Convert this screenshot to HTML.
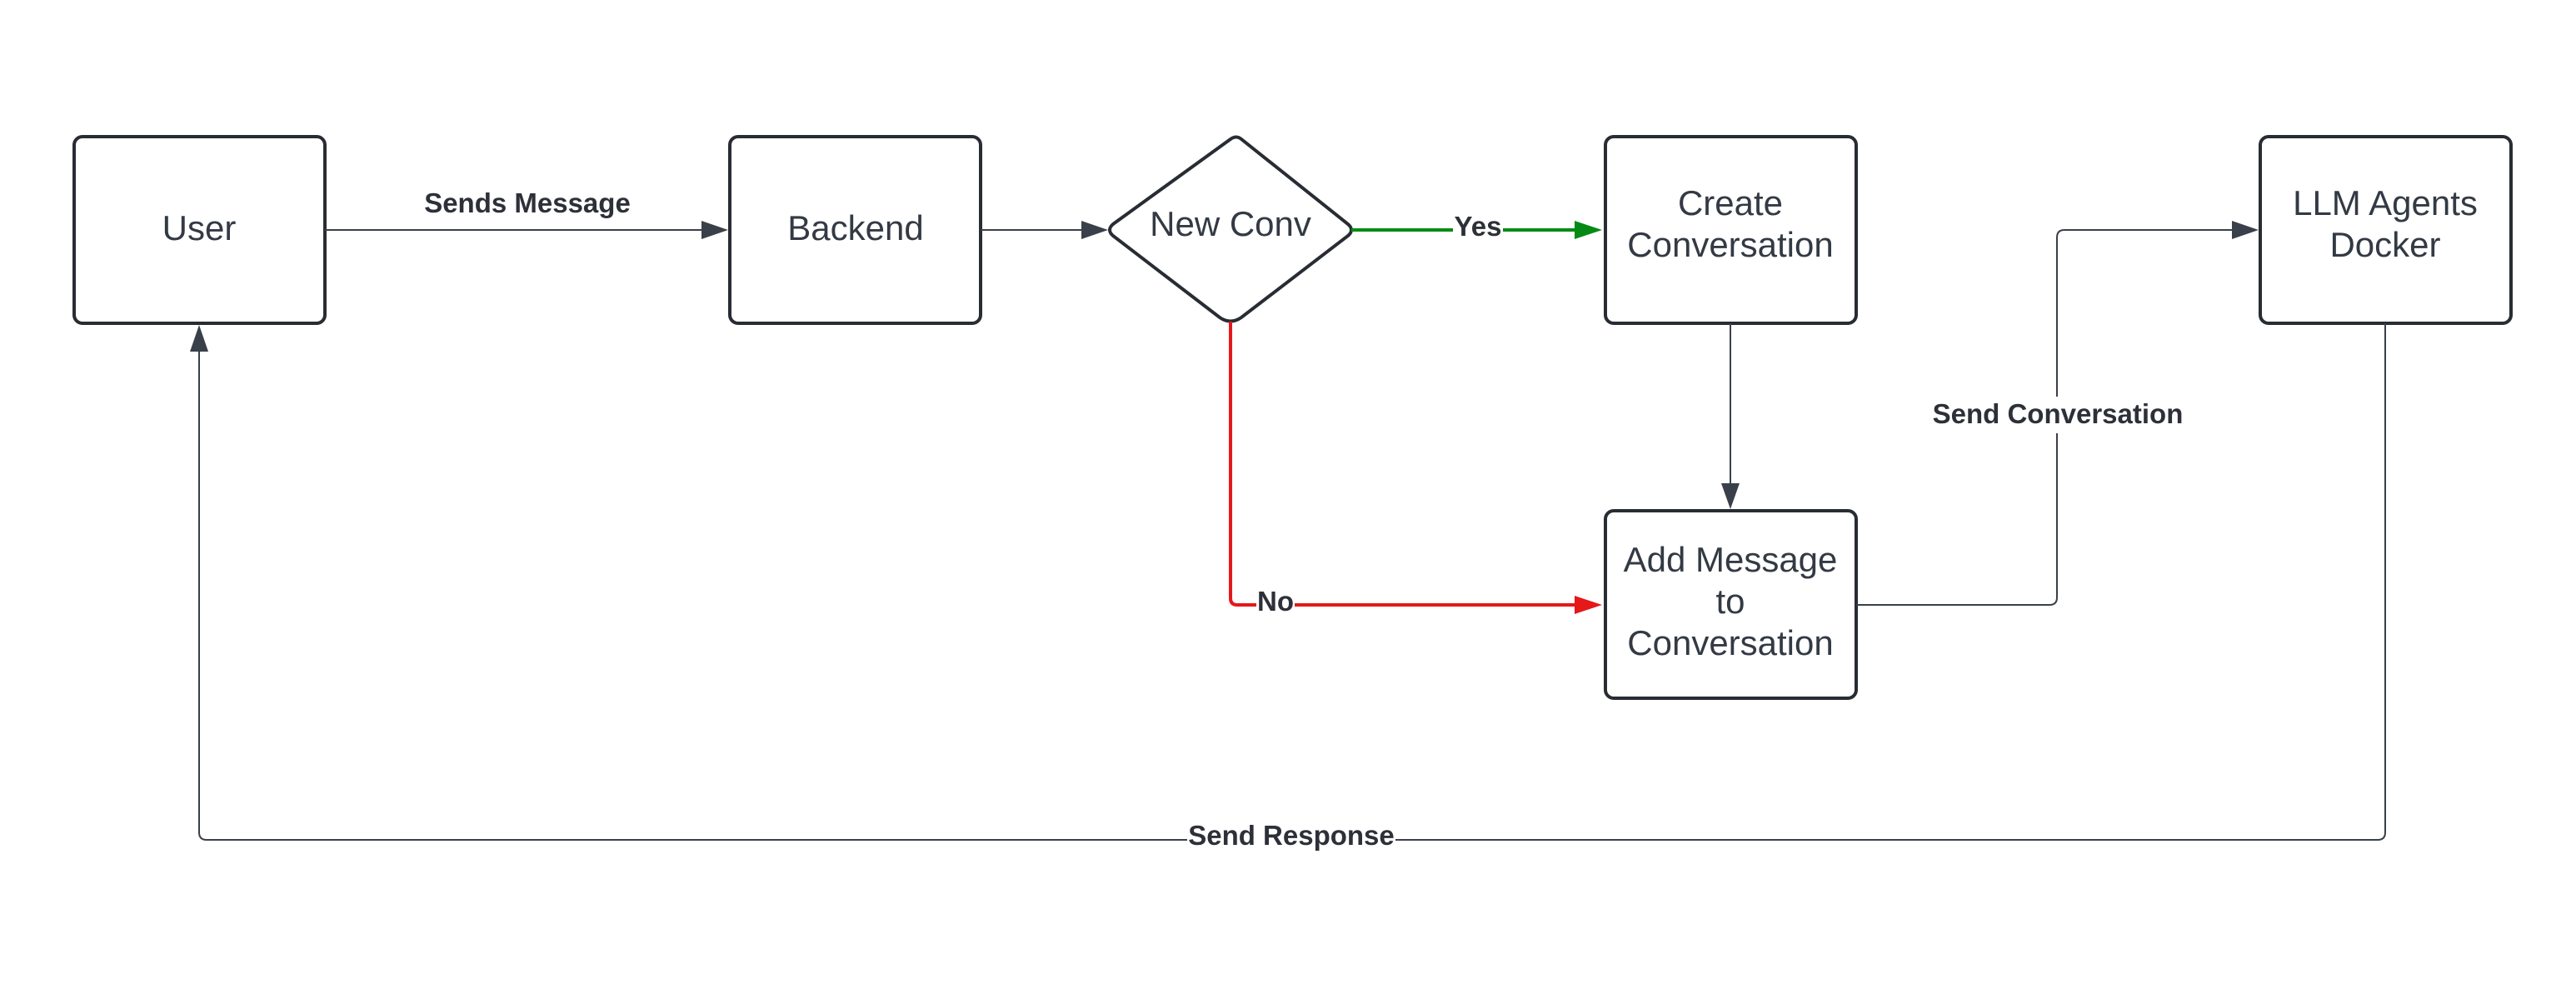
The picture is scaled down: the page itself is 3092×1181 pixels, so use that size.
<!DOCTYPE html>
<html><head><meta charset="utf-8"><style>
html,body{margin:0;padding:0;background:#fff}
svg{display:block}
</style></head><body>
<svg width="3092" height="1181" viewBox="0 0 3092 1181" xmlns="http://www.w3.org/2000/svg">
<rect width="3092" height="1181" fill="#fff"/>
<g fill="#fff" stroke="#282c33" stroke-width="4">
<rect x="89" y="164" width="301" height="224" rx="10"/>
<rect x="876" y="164" width="301" height="224" rx="10"/>
<path d="M1477 167 Q1484 162 1490 167 L1618 269 Q1626 276 1618 283 L1490 381 Q1477 390 1464 381 L1336 283 Q1328 276 1336 269 Z"/>
<rect x="1927" y="164" width="301" height="224" rx="10"/>
<rect x="1927" y="613" width="301" height="225" rx="10"/>
<rect x="2713" y="164" width="301" height="224" rx="10"/>
</g>
<g fill="none" stroke="#3a4049" stroke-width="2">
<line x1="390" y1="276" x2="845" y2="276"/>
<line x1="1177" y1="276" x2="1300" y2="276"/>
<line x1="2077" y1="388" x2="2077" y2="583"/>
<path d="M2228 726 L2460 726 Q2469 726 2469 717 L2469 285 Q2469 276 2478 276 L2682 276"/>
<path d="M2863 388 L2863 999 Q2863 1008 2854 1008 L248 1008 Q239 1008 239 999 L239 420"/>
</g>
<g fill="#3a4049">
<polygon points="874,276 842,265 842,287"/>
<polygon points="1330,276 1298,265 1298,287"/>
<polygon points="2077,611 2066,580 2088,580"/>
<polygon points="2711,276 2679,265 2679,287"/>
<polygon points="239,390 228,422 250,422"/>
</g>
<line x1="1622" y1="276" x2="1893" y2="276" stroke="#058a14" stroke-width="4"/>
<polygon points="1923,276 1890,265 1890,287" fill="#058a14"/>
<path d="M1477 386 L1477 718 Q1477 726 1485 726 L1893 726" fill="none" stroke="#e5181a" stroke-width="4"/>
<polygon points="1923,726 1890,715 1890,737" fill="#e5181a"/>
<g font-family="Liberation Sans, sans-serif" font-size="42" fill="#333a44" text-anchor="middle">
<text x="239" y="288">User</text>
<text x="1027" y="288">Backend</text>
<text x="1477" y="283">New Conv</text>
<text x="2077" y="258">Create</text>
<text x="2077" y="308">Conversation</text>
<text x="2077" y="686">Add Message</text>
<text x="2077" y="736">to</text>
<text x="2077" y="786">Conversation</text>
<text x="2863" y="258">LLM Agents</text>
<text x="2863" y="308">Docker</text>
</g>
<g font-family="Liberation Sans, sans-serif" font-size="33" font-weight="bold" fill="#2d3038" text-anchor="middle">
<text x="633" y="255">Sends Message</text>
<rect x="1744" y="258" width="60" height="36" fill="#fff"/>
<text x="1774" y="283">Yes</text>
<rect x="1508" y="708" width="46" height="36" fill="#fff"/>
<text x="1531" y="733">No</text>
<rect x="2310" y="476" width="320" height="44" fill="#fff"/>
<text x="2470" y="508">Send Conversation</text>
<rect x="1425" y="985" width="250" height="44" fill="#fff"/>
<text x="1550" y="1014">Send Response</text>
</g>
</svg>
</body></html>
